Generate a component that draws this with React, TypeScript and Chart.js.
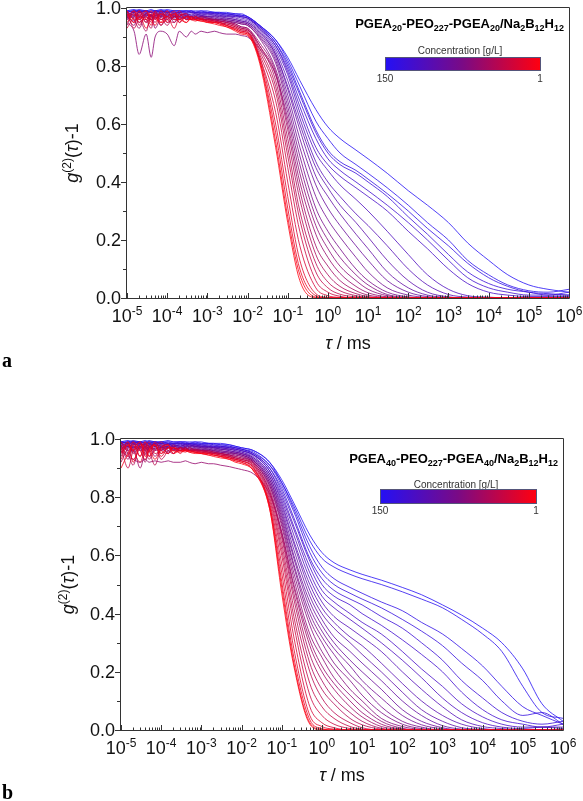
import React, { useEffect, useRef } from "react";
import { Chart, registerables } from "chart.js";

Chart.register(...registerables);

// ---------- shared axes ----------
// 20 early lag times (noisy plateau) + 20 later lag times, in ms
const tauMs = [
  1e-5, 1.5e-5, 2e-5, 3e-5, 4e-5, 5e-5, 7e-5, 1e-4, 1.5e-4, 2e-4,
  3e-4, 4e-4, 5e-4, 7e-4, 1e-3, 1.5e-3, 2e-3, 3e-3, 5e-3, 7e-3,
  1e-2, 2e-2, 5e-2, 0.1, 0.2, 0.5, 1, 2, 5, 10,
  30, 100, 300, 1e3, 3e3, 1e4, 3e4, 1e5, 3e5, 1e6,
];
const xTickExponents = [-5, -4, -3, -2, -1, 0, 1, 2, 3, 4, 5, 6];
const yTickValues = [0, 0.2, 0.4, 0.6, 0.8, 1.0];
const yTickLabels = ["0.0", "0.2", "0.4", "0.6", "0.8", "1.0"];
const yMinorValues = [0.1, 0.3, 0.5, 0.7, 0.9];

// ---------- panel a : PGEA20-PEO227-PGEA20 ----------
const concA = [150, 144, 138, 132, 126, 120, 114, 108, 102, 96, 90, 84, 78, 72, 66, 60, 54, 48, 42, 36, 30, 24, 18, 12, 6, 1];
const gA01 = [0.99,0.995,0.99,0.99,0.995,0.99,0.99,0.995,0.99,0.99, 0.99,0.99,0.99,0.99,0.99,0.985,0.985,0.985,0.98,0.98, 0.97,0.94,0.89,0.83,0.75, 0.65,0.59,0.55,0.51,0.48, 0.43,0.37,0.32,0.26,0.19, 0.13,0.08,0.045,0.03,0.02];
const gA02 = [0.99,0.99,0.995,0.99,0.99,0.99,0.995,0.99,0.99,0.99, 0.99,0.99,0.985,0.99,0.985,0.985,0.985,0.98,0.98,0.975, 0.97,0.94,0.89,0.82,0.73, 0.61,0.55,0.50,0.46,0.43, 0.38,0.32,0.26,0.20,0.13, 0.08,0.045,0.025,0.02,0.03];
const gA03 = [0.985,0.99,0.99,0.985,0.99,0.99,0.99,0.985,0.99,0.99, 0.985,0.99,0.985,0.985,0.985,0.985,0.98,0.98,0.975,0.975, 0.97,0.94,0.88,0.81,0.71, 0.58,0.51,0.47,0.44,0.41, 0.36,0.30,0.24,0.18,0.12, 0.07,0.04,0.02,0.015,0.01];
const gA04 = [0.99,0.985,0.99,0.99,0.985,0.99,0.985,0.99,0.985,0.985, 0.99,0.985,0.985,0.985,0.985,0.98,0.98,0.98,0.975,0.97, 0.965,0.935,0.88,0.80,0.70, 0.57,0.50,0.46,0.43,0.40, 0.35,0.28,0.22,0.15,0.09, 0.05,0.03,0.02,0.01,0.02];
const gA05 = [0.985,0.99,0.985,0.99,0.985,0.985,0.99,0.985,0.985,0.985, 0.985,0.985,0.985,0.98,0.98,0.98,0.98,0.975,0.975,0.97, 0.965,0.935,0.87,0.79,0.68, 0.55,0.48,0.44,0.40,0.37, 0.32,0.26,0.20,0.13,0.07, 0.035,0.02,0.01,0.01,0.01];
const gA06 = [0.98,0.985,0.99,0.985,0.985,0.98,0.985,0.985,0.98,0.985, 0.98,0.985,0.98,0.98,0.98,0.98,0.975,0.975,0.97,0.97, 0.965,0.93,0.87,0.78,0.66, 0.52,0.46,0.42,0.38,0.35, 0.30,0.23,0.17,0.10,0.05, 0.02,0.01,0.005,0.005,0.005];
const gA07 = [0.985,0.975,0.985,0.98,0.975,0.985,0.98,0.975,0.98,0.98, 0.975,0.98,0.98,0.975,0.98,0.975,0.975,0.97,0.97,0.965, 0.96,0.93,0.86,0.77,0.64, 0.50,0.44,0.39,0.34,0.30, 0.23,0.15,0.08,0.03,0.008, 0.003,0,0,0,0];
const gA08 = [0.975,0.985,0.97,0.98,0.985,0.975,0.98,0.98,0.975,0.98, 0.975,0.975,0.98,0.975,0.975,0.975,0.97,0.97,0.965,0.96, 0.955,0.925,0.85,0.75,0.62, 0.47,0.40,0.35,0.29,0.25, 0.18,0.10,0.045,0.012,0.003, 0,0,0,0,0];
const gA09 = [0.98,0.97,0.985,0.975,0.97,0.98,0.975,0.98,0.97,0.975, 0.98,0.975,0.975,0.975,0.97,0.97,0.97,0.965,0.96,0.955, 0.95,0.92,0.84,0.73,0.60, 0.45,0.38,0.32,0.26,0.21, 0.13,0.06,0.02,0.004,0, 0,0,0,0,0];
const gA10 = [0.97,0.98,0.965,0.98,0.975,0.97,0.98,0.97,0.975,0.97, 0.975,0.97,0.975,0.97,0.97,0.97,0.965,0.965,0.96,0.955, 0.95,0.915,0.84,0.72,0.58, 0.42,0.35,0.29,0.22,0.17, 0.09,0.035,0.01,0.002,0, 0,0,0,0,0];
const gA11 = [0.975,0.965,0.98,0.97,0.96,0.975,0.97,0.975,0.965,0.975, 0.97,0.97,0.97,0.97,0.97,0.965,0.965,0.96,0.955,0.95, 0.945,0.91,0.83,0.70,0.55, 0.39,0.31,0.25,0.18,0.13, 0.06,0.02,0.005,0,0, 0,0,0,0,0];
const gA12 = [0.965,0.98,0.96,0.975,0.97,0.965,0.975,0.965,0.97,0.965, 0.97,0.97,0.965,0.97,0.965,0.965,0.96,0.96,0.955,0.95, 0.945,0.905,0.82,0.68,0.52, 0.35,0.27,0.21,0.14,0.09, 0.035,0.01,0.002,0,0, 0,0,0,0,0];
const gA13 = [0.97,0.955,0.975,0.96,0.975,0.965,0.97,0.96,0.97,0.97, 0.965,0.97,0.965,0.965,0.965,0.96,0.96,0.955,0.95,0.945, 0.94,0.90,0.81,0.66,0.49, 0.31,0.23,0.17,0.10,0.06, 0.02,0.004,0,0,0, 0,0,0,0,0];
const gA14 = [0.96,0.975,0.95,0.97,0.96,0.975,0.96,0.97,0.96,0.965, 0.965,0.96,0.965,0.96,0.96,0.96,0.955,0.955,0.95,0.945, 0.94,0.895,0.79,0.64,0.46, 0.28,0.20,0.14,0.08,0.045, 0.012,0.002,0,0,0, 0,0,0,0,0];
const gA15 = [0.95,0.92,0.84,0.91,0.83,0.90,0.92,0.91,0.87,0.92, 0.90,0.92,0.91,0.92,0.915,0.92,0.915,0.91,0.91,0.905, 0.90,0.86,0.77,0.62,0.43, 0.25,0.17,0.11,0.06,0.03, 0.008,0,0,0,0, 0,0,0,0,0];
const gA16 = [0.97,0.94,0.99,0.95,0.98,0.93,0.97,0.99,0.95,0.97, 0.98,0.96,0.97,0.965,0.965,0.96,0.96,0.955,0.945,0.935, 0.93,0.88,0.78,0.60,0.40, 0.22,0.14,0.085,0.04,0.018, 0.004,0,0,0,0, 0,0,0,0,0];
const gA17 = [0.99,0.96,0.93,0.98,0.96,0.99,0.94,0.97,0.98,0.95, 0.97,0.965,0.96,0.97,0.965,0.96,0.955,0.95,0.945,0.935, 0.93,0.87,0.77,0.58,0.37, 0.18,0.11,0.06,0.025,0.01, 0.002,0,0,0,0, 0,0,0,0,0];
const gA18 = [0.94,0.99,0.97,0.92,0.98,0.96,0.99,0.95,0.97,0.98, 0.96,0.97,0.965,0.96,0.96,0.96,0.955,0.95,0.94,0.93, 0.925,0.87,0.75,0.55,0.34, 0.15,0.08,0.04,0.015,0.005, 0,0,0,0,0, 0,0,0,0,0];
const gA19 = [0.98,0.95,0.99,0.96,0.93,0.98,0.97,0.94,0.98,0.96, 0.97,0.96,0.97,0.96,0.96,0.955,0.955,0.95,0.94,0.93, 0.925,0.86,0.73,0.52,0.30, 0.12,0.055,0.025,0.008,0.002, 0,0,0,0,0, 0,0,0,0,0];
const gA20 = [0.96,0.99,0.94,0.98,0.97,0.95,0.99,0.96,0.95,0.98, 0.96,0.965,0.97,0.96,0.96,0.955,0.95,0.945,0.935,0.925, 0.92,0.85,0.71,0.49,0.27, 0.09,0.035,0.013,0.004,0, 0,0,0,0,0, 0,0,0,0,0];
const gA21 = [0.99,0.93,0.97,0.99,0.95,0.97,0.94,0.98,0.97,0.96, 0.97,0.97,0.96,0.965,0.955,0.955,0.95,0.945,0.935,0.925, 0.92,0.84,0.68,0.45,0.23, 0.06,0.02,0.006,0,0, 0,0,0,0,0, 0,0,0,0,0];
const gA22 = [0.93,0.97,0.99,0.95,0.98,0.96,0.98,0.95,0.97,0.99, 0.96,0.96,0.97,0.96,0.955,0.955,0.95,0.94,0.93,0.92, 0.915,0.83,0.64,0.40,0.18, 0.035,0.008,0.002,0,0, 0,0,0,0,0, 0,0,0,0,0];
const gA23 = [0.97,0.99,0.95,0.97,0.94,0.99,0.96,0.97,0.93,0.97, 0.98,0.96,0.96,0.965,0.955,0.95,0.95,0.94,0.93,0.92, 0.915,0.83,0.60,0.35,0.13, 0.015,0.002,0,0,0, 0,0,0,0,0, 0,0,0,0,0];
const gA24 = [0.99,0.96,0.98,0.93,0.97,0.98,0.95,0.99,0.96,0.96, 0.95,0.97,0.96,0.955,0.955,0.95,0.945,0.94,0.925,0.915, 0.91,0.82,0.57,0.31,0.10, 0.008,0,0,0,0, 0,0,0,0,0, 0,0,0,0,0];
const gA25 = [0.95,0.98,0.96,0.99,0.96,0.94,0.98,0.97,0.99,0.95, 0.97,0.96,0.955,0.96,0.95,0.95,0.945,0.935,0.925,0.915, 0.91,0.82,0.54,0.28,0.08, 0.003,0,0,0,0, 0,0,0,0,0, 0,0,0,0,0];
const gA26 = [0.98,0.95,0.97,0.96,0.99,0.97,0.95,0.96,0.98,0.97, 0.95,0.965,0.96,0.955,0.95,0.945,0.94,0.935,0.92,0.91, 0.905,0.81,0.52,0.26,0.06, 0.001,0,0,0,0, 0,0,0,0,0, 0,0,0,0,0];
const seriesA = [gA01, gA02, gA03, gA04, gA05, gA06, gA07, gA08, gA09, gA10, gA11, gA12, gA13, gA14, gA15, gA16, gA17, gA18, gA19, gA20, gA21, gA22, gA23, gA24, gA25, gA26];
const legendA = ["PGEA", "20", "-PEO", "227", "-PGEA", "20", "/Na", "2", "B", "12", "H", "12"];

// ---------- panel b : PGEA40-PEO227-PGEA40 ----------
const concB = [150, 145, 140, 135, 130, 125, 120, 115, 110, 105, 100, 95, 90, 85, 80, 75, 70, 65, 60, 55, 50, 45, 40, 35, 30, 24, 18, 12, 6, 1];
const gB01 = [0.99,0.995,0.99,0.99,0.995,0.99,0.99,0.99,0.995,0.99, 0.99,0.99,0.99,0.99,0.99,0.985,0.985,0.985,0.98,0.975, 0.97,0.96,0.92,0.86,0.78, 0.67,0.61,0.575,0.55,0.535, 0.515,0.49,0.465,0.43,0.395, 0.35,0.30,0.21,0.09,0.03];
const gB02 = [0.99,0.99,0.995,0.99,0.99,0.995,0.99,0.99,0.99,0.99, 0.99,0.99,0.985,0.99,0.985,0.985,0.985,0.98,0.98,0.975, 0.97,0.96,0.92,0.85,0.77, 0.65,0.59,0.56,0.535,0.52, 0.50,0.475,0.45,0.42,0.38, 0.33,0.27,0.15,0.06,0.04];
const gB03 = [0.985,0.99,0.99,0.99,0.985,0.99,0.99,0.985,0.99,0.985, 0.99,0.985,0.985,0.985,0.985,0.985,0.98,0.98,0.975,0.97, 0.965,0.955,0.91,0.85,0.76, 0.63,0.56,0.52,0.49,0.47, 0.44,0.41,0.37,0.33,0.28, 0.22,0.15,0.08,0.05,0.02];
const gB04 = [0.99,0.985,0.99,0.985,0.99,0.985,0.985,0.99,0.985,0.985, 0.985,0.985,0.985,0.985,0.98,0.98,0.98,0.975,0.975,0.97, 0.965,0.95,0.91,0.84,0.75, 0.61,0.54,0.50,0.47,0.45, 0.42,0.38,0.34,0.29,0.23, 0.17,0.10,0.05,0.06,0.02];
const gB05 = [0.985,0.99,0.985,0.99,0.985,0.985,0.99,0.985,0.985,0.985, 0.985,0.98,0.985,0.98,0.98,0.98,0.975,0.975,0.97,0.97, 0.965,0.95,0.90,0.83,0.73, 0.59,0.52,0.48,0.45,0.43, 0.39,0.35,0.30,0.24,0.17, 0.11,0.06,0.03,0.02,0.03];
const gB06 = [0.99,0.985,0.985,0.98,0.985,0.99,0.985,0.985,0.98,0.985, 0.98,0.985,0.98,0.98,0.98,0.975,0.975,0.975,0.97,0.965, 0.96,0.945,0.90,0.82,0.72, 0.58,0.50,0.46,0.43,0.40, 0.36,0.31,0.26,0.20,0.13, 0.07,0.035,0.02,0.01,0.02];
const gB07 = [0.985,0.98,0.99,0.985,0.98,0.985,0.98,0.985,0.98,0.98, 0.985,0.98,0.98,0.98,0.975,0.975,0.975,0.97,0.97,0.965, 0.96,0.945,0.89,0.81,0.70, 0.56,0.48,0.44,0.40,0.37, 0.33,0.27,0.21,0.15,0.09, 0.045,0.02,0.01,0.01,0.01];
const gB08 = [0.98,0.985,0.98,0.985,0.98,0.98,0.985,0.98,0.98,0.98, 0.975,0.98,0.98,0.975,0.975,0.975,0.97,0.97,0.965,0.965, 0.96,0.945,0.89,0.80,0.69, 0.54,0.46,0.42,0.38,0.35, 0.30,0.24,0.18,0.11,0.06, 0.025,0.01,0.005,0.01,0.005];
const gB09 = [0.985,0.975,0.98,0.985,0.975,0.98,0.98,0.975,0.985,0.975, 0.98,0.975,0.975,0.98,0.975,0.975,0.97,0.97,0.965,0.96, 0.955,0.94,0.88,0.79,0.67, 0.52,0.44,0.39,0.35,0.32, 0.27,0.20,0.14,0.08,0.035, 0.012,0.005,0,0,0];
const gB10 = [0.975,0.985,0.97,0.98,0.98,0.975,0.985,0.975,0.975,0.98, 0.975,0.975,0.98,0.975,0.975,0.97,0.97,0.965,0.965,0.96, 0.955,0.935,0.88,0.78,0.65, 0.50,0.42,0.37,0.32,0.29, 0.23,0.16,0.10,0.05,0.02, 0.005,0,0,0,0];
const gB11 = [0.98,0.97,0.985,0.975,0.97,0.98,0.975,0.98,0.97,0.975, 0.975,0.98,0.975,0.975,0.97,0.97,0.97,0.965,0.96,0.955, 0.95,0.935,0.87,0.77,0.64, 0.48,0.40,0.35,0.30,0.26, 0.20,0.13,0.07,0.03,0.008, 0.002,0,0,0,0];
const gB12 = [0.97,0.98,0.97,0.98,0.975,0.97,0.98,0.97,0.975,0.975, 0.97,0.975,0.97,0.975,0.97,0.97,0.965,0.965,0.96,0.955, 0.95,0.93,0.87,0.76,0.62, 0.46,0.38,0.32,0.27,0.23, 0.17,0.10,0.05,0.015,0.003, 0,0,0,0,0];
const gB13 = [0.975,0.965,0.98,0.97,0.975,0.965,0.975,0.97,0.97,0.975, 0.97,0.97,0.975,0.97,0.97,0.965,0.965,0.96,0.955,0.955, 0.95,0.93,0.86,0.75,0.60, 0.44,0.36,0.30,0.24,0.20, 0.14,0.07,0.03,0.008,0, 0,0,0,0,0];
const gB14 = [0.965,0.975,0.96,0.975,0.965,0.975,0.965,0.97,0.975,0.965, 0.97,0.97,0.965,0.97,0.965,0.965,0.96,0.96,0.955,0.95, 0.945,0.925,0.86,0.74,0.59, 0.42,0.34,0.28,0.22,0.17, 0.11,0.05,0.018,0.004,0, 0,0,0,0,0];
const gB15 = [0.975,0.96,0.975,0.965,0.97,0.96,0.975,0.965,0.97,0.965, 0.97,0.965,0.97,0.965,0.965,0.965,0.96,0.955,0.955,0.95, 0.945,0.925,0.85,0.73,0.57, 0.40,0.32,0.26,0.19,0.15, 0.08,0.03,0.01,0,0, 0,0,0,0,0];
const gB16 = [0.955,0.975,0.965,0.975,0.96,0.97,0.965,0.975,0.96,0.97, 0.965,0.97,0.965,0.965,0.965,0.96,0.96,0.955,0.95,0.95, 0.945,0.925,0.85,0.72,0.56, 0.38,0.30,0.23,0.17,0.12, 0.06,0.02,0.005,0,0, 0,0,0,0,0];
const gB17 = [0.97,0.95,0.975,0.96,0.97,0.955,0.97,0.96,0.97,0.965, 0.96,0.97,0.96,0.965,0.96,0.96,0.955,0.955,0.95,0.945, 0.94,0.92,0.84,0.71,0.54, 0.36,0.27,0.21,0.14,0.10, 0.04,0.012,0.002,0,0, 0,0,0,0,0];
const gB18 = [0.95,0.98,0.955,0.97,0.945,0.975,0.96,0.965,0.955,0.97, 0.96,0.965,0.96,0.96,0.96,0.955,0.955,0.95,0.945,0.945, 0.94,0.92,0.84,0.70,0.52, 0.33,0.25,0.18,0.12,0.08, 0.03,0.006,0,0,0, 0,0,0,0,0];
const gB19 = [0.96,0.94,0.93,0.92,0.93,0.92,0.925,0.92,0.925,0.92, 0.92,0.925,0.92,0.915,0.92,0.915,0.915,0.91,0.905,0.90, 0.895,0.88,0.81,0.68,0.50, 0.31,0.22,0.16,0.10,0.06, 0.02,0.003,0,0,0, 0,0,0,0,0];
const gB20 = [0.98,0.93,0.97,0.90,0.96,0.98,0.94,0.97,0.95,0.98, 0.96,0.97,0.96,0.965,0.96,0.96,0.955,0.95,0.945,0.94, 0.935,0.92,0.83,0.68,0.49, 0.29,0.20,0.14,0.08,0.045, 0.012,0.002,0,0,0, 0,0,0,0,0];
const gB21 = [0.94,0.99,0.95,0.97,0.92,0.97,0.98,0.95,0.97,0.96, 0.97,0.96,0.965,0.96,0.96,0.96,0.955,0.95,0.945,0.94, 0.935,0.915,0.82,0.67,0.47, 0.26,0.17,0.11,0.06,0.03, 0.006,0,0,0,0, 0,0,0,0,0];
const gB22 = [0.99,0.95,0.91,0.98,0.96,0.93,0.97,0.99,0.96,0.95, 0.97,0.965,0.96,0.965,0.96,0.955,0.955,0.95,0.945,0.935, 0.93,0.915,0.82,0.66,0.45, 0.23,0.14,0.09,0.04,0.018, 0.003,0,0,0,0, 0,0,0,0,0];
const gB23 = [0.92,0.97,0.99,0.94,0.98,0.96,0.91,0.97,0.98,0.96, 0.96,0.97,0.96,0.96,0.96,0.955,0.95,0.95,0.94,0.935, 0.93,0.91,0.81,0.64,0.42, 0.20,0.11,0.06,0.025,0.008, 0,0,0,0,0, 0,0,0,0,0];
const gB24 = [0.97,0.90,0.96,0.99,0.95,0.97,0.98,0.93,0.96,0.97, 0.965,0.96,0.97,0.96,0.955,0.955,0.95,0.945,0.94,0.935, 0.93,0.91,0.80,0.62,0.39, 0.16,0.08,0.04,0.012,0.003, 0,0,0,0,0, 0,0,0,0,0];
const gB25 = [0.99,0.96,0.93,0.97,0.99,0.94,0.96,0.98,0.95,0.97, 0.96,0.965,0.96,0.96,0.955,0.955,0.95,0.945,0.94,0.93, 0.925,0.905,0.79,0.60,0.36, 0.12,0.05,0.02,0.005,0, 0,0,0,0,0, 0,0,0,0,0];
const gB26 = [0.93,0.98,0.96,0.92,0.97,0.99,0.95,0.96,0.98,0.95, 0.97,0.96,0.96,0.955,0.955,0.95,0.95,0.945,0.935,0.93, 0.925,0.90,0.78,0.57,0.32, 0.08,0.025,0.008,0,0, 0,0,0,0,0, 0,0,0,0,0];
const gB27 = [0.98,0.94,0.99,0.96,0.93,0.96,0.98,0.94,0.97,0.97, 0.95,0.965,0.96,0.955,0.955,0.95,0.945,0.94,0.935,0.93, 0.925,0.90,0.77,0.54,0.28, 0.05,0.012,0.003,0,0, 0,0,0,0,0, 0,0,0,0,0];
const gB28 = [0.96,0.99,0.92,0.98,0.97,0.94,0.99,0.96,0.95,0.97, 0.96,0.955,0.96,0.955,0.95,0.95,0.945,0.94,0.935,0.925, 0.92,0.895,0.77,0.51,0.25, 0.035,0.005,0,0,0, 0,0,0,0,0, 0,0,0,0,0];
const gB29 = [0.90,0.95,0.98,0.94,0.99,0.97,0.93,0.97,0.98,0.95, 0.96,0.96,0.955,0.955,0.95,0.945,0.945,0.94,0.93,0.925, 0.92,0.89,0.76,0.49,0.23, 0.025,0.002,0,0,0, 0,0,0,0,0, 0,0,0,0,0];
const gB30 = [0.95,0.98,0.96,0.99,0.94,0.96,0.98,0.95,0.97,0.96, 0.955,0.96,0.955,0.95,0.95,0.945,0.94,0.935,0.93,0.92, 0.915,0.89,0.76,0.47,0.22, 0.02,0,0,0,0, 0,0,0,0,0, 0,0,0,0,0];
const seriesB = [gB01, gB02, gB03, gB04, gB05, gB06, gB07, gB08, gB09, gB10, gB11, gB12, gB13, gB14, gB15, gB16, gB17, gB18, gB19, gB20, gB21, gB22, gB23, gB24, gB25, gB26, gB27, gB28, gB29, gB30];
const legendB = ["PGEA", "40", "-PEO", "227", "-PGEA", "40", "/Na", "2", "B", "12", "H", "12"];

const colorbarTitle = "Concentration [g/L]";
const concMax = 150;
const concMin = 1;

// ---------- styling helpers ----------
const FAMILY = "'Liberation Sans', Arial, Helvetica, sans-serif";
const STOPS = [
  [36, 16, 245],
  [122, 10, 133],
  [255, 0, 16],
];
function concColor(c: number, alpha: number) {
  const t = Math.min(1, Math.max(0, (concMax - c) / (concMax - concMin)));
  const seg = t < 0.5 ? 0 : 1;
  const lt = t < 0.5 ? t / 0.5 : (t - 0.5) / 0.5;
  const a = STOPS[seg], b = STOPS[seg + 1];
  const r = Math.round(a[0] + (b[0] - a[0]) * lt);
  const g = Math.round(a[1] + (b[1] - a[1]) * lt);
  const bl = Math.round(a[2] + (b[2] - a[2]) * lt);
  return `rgba(${r},${g},${bl},${alpha})`;
}

type Seg = { t: string; size: number; dy?: number; italic?: boolean; bold?: boolean };
function segFont(s: Seg) {
  return `${s.italic ? "italic " : ""}${s.bold ? "bold " : ""}${s.size}px ${FAMILY}`;
}
function measureSegs(ctx: CanvasRenderingContext2D, segs: Seg[]) {
  let w = 0;
  for (const s of segs) {
    ctx.font = segFont(s);
    w += ctx.measureText(s.t).width;
  }
  return w;
}
function drawSegs(ctx: CanvasRenderingContext2D, segs: Seg[], x: number, y: number) {
  let cx = x;
  for (const s of segs) {
    ctx.font = segFont(s);
    ctx.fillText(s.t, cx, y + (s.dy || 0));
    cx += ctx.measureText(s.t).width;
  }
}

type PanelCfg = {
  top: number;
  height: number;
  pad: { left: number; right: number; top: number; bottom: number };
  conc: number[];
  series: number[][];
  legend: string[];
  letter: string;
  letterPos: [number, number];
  legendBaseline: number;
  concLabelDx: number;
  concLabelBaseline: number;
  barDx: [number, number];
  barDy: [number, number];
  barLabelBaseline: number;
  yTitleGap: number;
};

function makeDecor(cfg: PanelCfg) {
  return {
    id: "decor",
    afterDraw(chart: any) {
      const ctx: CanvasRenderingContext2D = chart.ctx;
      const { left, right, top, bottom } = chart.chartArea;
      const xs = chart.scales.x;
      const ys = chart.scales.y;
      const snap = (v: number) => Math.round(v) + 0.5;
      ctx.save();
      ctx.fillStyle = "#111";
      ctx.strokeStyle = "#333";
      ctx.lineWidth = 1;

      // frame
      ctx.beginPath();
      ctx.rect(snap(left) - 1, snap(top) - 1, Math.round(right) - Math.round(left) + 1, Math.round(bottom) - Math.round(top) + 1);
      ctx.stroke();

      // y ticks (outward)
      ctx.beginPath();
      for (const v of yTickValues) {
        const y = snap(ys.getPixelForValue(v));
        ctx.moveTo(left - 6, y);
        ctx.lineTo(left, y);
      }
      for (const v of yMinorValues) {
        const y = snap(ys.getPixelForValue(v));
        ctx.moveTo(left - 4, y);
        ctx.lineTo(left, y);
      }
      // x ticks (inward)
      for (const e of xTickExponents) {
        const x = snap(xs.getPixelForValue(Math.pow(10, e)));
        ctx.moveTo(x, bottom);
        ctx.lineTo(x, bottom - 5);
        if (e < xTickExponents[xTickExponents.length - 1]) {
          for (let m = 2; m <= 9; m++) {
            const xm = snap(xs.getPixelForValue(m * Math.pow(10, e)));
            ctx.moveTo(xm, bottom);
            ctx.lineTo(xm, bottom - 2.5);
          }
        }
      }
      ctx.stroke();

      // y tick labels
      ctx.font = `18px ${FAMILY}`;
      ctx.textAlign = "right";
      ctx.textBaseline = "middle";
      yTickValues.forEach((v, i) => {
        ctx.fillText(yTickLabels[i], left - 6, ys.getPixelForValue(v) + 1);
      });

      // x tick labels: 10^e
      ctx.textAlign = "left";
      ctx.textBaseline = "alphabetic";
      for (const e of xTickExponents) {
        const x = xs.getPixelForValue(Math.pow(10, e));
        const segs: Seg[] = [
          { t: "10", size: 18 },
          { t: String(e), size: 12, dy: -7 },
        ];
        const w = measureSegs(ctx, segs);
        drawSegs(ctx, segs, x - w / 2, bottom + 24);
      }

      // x title
      const xt: Seg[] = [
        { t: "\u03c4", size: 18, italic: true },
        { t: " / ms", size: 18 },
      ];
      const xw = measureSegs(ctx, xt);
      drawSegs(ctx, xt, (left + right) / 2 - xw / 2, bottom + 51);

      // y title (rotated)
      const yt: Seg[] = [
        { t: "g", size: 18, italic: true },
        { t: "(2)", size: 12, dy: -7 },
        { t: "(", size: 18 },
        { t: "\u03c4", size: 18, italic: true },
        { t: ")-1", size: 18 },
      ];
      const yw = measureSegs(ctx, yt);
      ctx.save();
      ctx.translate(left - cfg.yTitleGap, (top + bottom) / 2);
      ctx.rotate(-Math.PI / 2);
      drawSegs(ctx, yt, -yw / 2, 0);
      ctx.restore();

      // legend title with subscripts
      const lg: Seg[] = cfg.legend.map((t, i) =>
        i % 2 === 0 ? { t, size: 13, bold: true } : { t, size: 9, bold: true, dy: 3 }
      );
      const lw = measureSegs(ctx, lg);
      ctx.fillStyle = "#000";
      drawSegs(ctx, lg, right - 5 - lw, top + cfg.legendBaseline);

      // colorbar title
      ctx.fillStyle = "#333";
      ctx.font = `10px ${FAMILY}`;
      ctx.textAlign = "center";
      ctx.fillText(colorbarTitle, right - cfg.concLabelDx, top + cfg.concLabelBaseline);

      // colorbar
      const bx0 = right - cfg.barDx[0];
      const bx1 = right - cfg.barDx[1];
      const by0 = top + cfg.barDy[0];
      const by1 = top + cfg.barDy[1];
      const grad = ctx.createLinearGradient(bx0, 0, bx1, 0);
      grad.addColorStop(0, concColor(concMax, 1));
      grad.addColorStop(0.5, concColor((concMax + concMin) / 2, 1));
      grad.addColorStop(1, concColor(concMin, 1));
      ctx.fillStyle = grad;
      ctx.fillRect(bx0, by0, bx1 - bx0, by1 - by0);
      ctx.strokeStyle = "#55557a";
      ctx.strokeRect(Math.round(bx0) + 0.5, Math.round(by0) + 0.5, Math.round(bx1 - bx0), Math.round(by1 - by0));
      ctx.fillStyle = "#333";
      ctx.fillText(String(concMax), bx0, top + cfg.barLabelBaseline);
      ctx.fillText(String(concMin), bx1, top + cfg.barLabelBaseline);

      // panel letter
      ctx.fillStyle = "#000";
      ctx.textAlign = "left";
      ctx.font = `bold 20px 'Liberation Serif', 'Times New Roman', serif`;
      ctx.fillText(cfg.letter, cfg.letterPos[0], cfg.letterPos[1]);

      ctx.restore();
    },
  };
}

function Panel({ cfg }: { cfg: PanelCfg }) {
  const ref = useRef<HTMLCanvasElement | null>(null);
  useEffect(() => {
    if (!ref.current) return;
    const n = cfg.series.length;
    const datasets = cfg.series.map((vals, i) => ({
      label: `${cfg.conc[i]} g/L`,
      data: tauMs.map((x, k) => ({ x, y: vals[k] })),
      borderColor: concColor(cfg.conc[i], 0.8),
      borderWidth: 1,
      pointRadius: 0,
      fill: false,
      cubicInterpolationMode: "monotone" as const,
      order: n - i,
    }));
    const chart = new Chart(ref.current, {
      type: "line",
      data: { datasets },
      options: {
        responsive: false,
        animation: false,
        devicePixelRatio: 1,
        events: [],
        layout: { padding: cfg.pad },
        plugins: { legend: { display: false }, tooltip: { enabled: false }, title: { display: false } },
        scales: {
          x: { type: "logarithmic", min: 1e-5, max: 1e6, display: false },
          y: { type: "linear", min: 0, max: 1, display: false },
        },
      },
      plugins: [makeDecor(cfg)],
    } as any);
    return () => chart.destroy();
  }, [cfg]);
  return (
    <canvas
      ref={ref}
      width={583}
      height={cfg.height}
      style={{ position: "absolute", left: 0, top: cfg.top, width: 583, height: cfg.height, display: "block" }}
    />
  );
}

const cfgA: PanelCfg = {
  top: 0,
  height: 400,
  pad: { left: 127, right: 14, top: 8, bottom: 102 },
  conc: concA,
  series: seriesA,
  legend: legendA,
  letter: "a",
  letterPos: [2, 367],
  legendBaseline: 20,
  concLabelDx: 109,
  concLabelBaseline: 46,
  barDx: [184, 29],
  barDy: [49, 62],
  barLabelBaseline: 74,
  yTitleGap: 49,
};

const cfgB: PanelCfg = {
  top: 400,
  height: 401,
  pad: { left: 121, right: 20, top: 39, bottom: 71 },
  conc: concB,
  series: seriesB,
  legend: legendB,
  letter: "b",
  letterPos: [2, 399],
  legendBaseline: 24,
  concLabelDx: 107,
  concLabelBaseline: 49,
  barDx: [183, 27],
  barDy: [50, 64],
  barLabelBaseline: 75,
  yTitleGap: 47,
};

export default function App() {
  return (
    <div style={{ position: "absolute", left: 0, top: 0, width: 583, height: 801, background: "#fff", overflow: "hidden" }}>
      <Panel cfg={cfgA} />
      <Panel cfg={cfgB} />
    </div>
  );
}
